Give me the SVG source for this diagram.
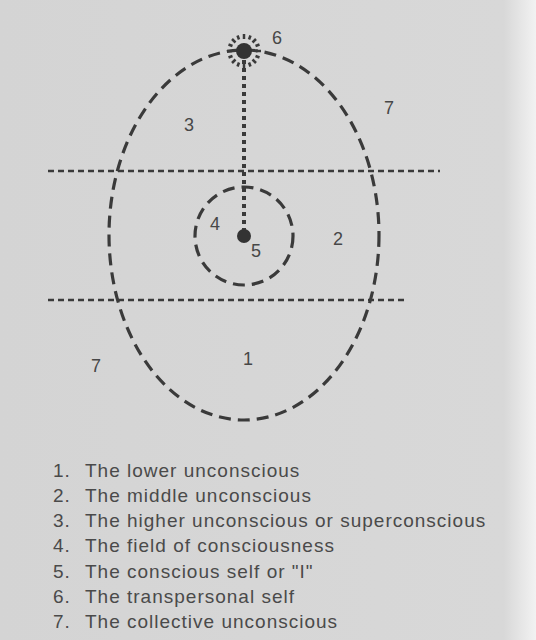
<svg xmlns="http://www.w3.org/2000/svg" width="536" height="640" viewBox="0 0 536 640">
<defs>
<linearGradient id="edge" x1="0" y1="0" x2="1" y2="0">
<stop offset="0" stop-color="#d4d4d4"/>
<stop offset="0.94" stop-color="#d8d8d8"/>
<stop offset="1" stop-color="#f2f2f2"/>
</linearGradient>
<style>
.dash{fill:none;stroke:#3a3a3a;stroke-width:3.2;stroke-dasharray:12 7}
.hline{fill:none;stroke:#3a3a3a;stroke-width:2.5;stroke-dasharray:6 4}
.dot{fill:none;stroke:#3a3a3a;stroke-width:4;stroke-dasharray:4 4}
.num{font-family:"Liberation Sans",Arial,sans-serif;font-size:18px;fill:#474747}
.leg{font-family:"Liberation Sans",Arial,sans-serif;font-size:19px;letter-spacing:1px;fill:#4a4a4a}
.ray{stroke:#3a3a3a;stroke-width:2.5}
</style>
</defs>
<rect x="0" y="0" width="536" height="640" fill="url(#edge)"/>
<g id="connectors">
<line class="hline" x1="48" y1="171" x2="440" y2="171"/>
<line class="hline" x1="48" y1="300" x2="408" y2="300"/>
<line class="dot" x1="244" y1="60" x2="244" y2="232"/>
</g>
<g id="egg">
<ellipse class="dash" cx="244" cy="235" rx="135" ry="185"/>
</g>
<g id="field">
<circle class="dash" cx="244" cy="236" r="49"/>
</g>
<g id="self">
<circle cx="244" cy="236" r="7" fill="#333"/>
</g>
<g id="transpersonal">
<circle cx="244" cy="51" r="8" fill="#333"/>
<g class="ray">
<line x1="244" y1="34" x2="244" y2="39"/>
<line x1="244" y1="63" x2="244" y2="68"/>
<line x1="227" y1="51" x2="232" y2="51"/>
<line x1="256" y1="51" x2="261" y2="51"/>
<line x1="232" y1="39" x2="235.5" y2="42.5"/>
<line x1="256" y1="39" x2="252.5" y2="42.5"/>
<line x1="232" y1="63" x2="235.5" y2="59.5"/>
<line x1="256" y1="63" x2="252.5" y2="59.5"/>
<line x1="237.5" y1="35.5" x2="239" y2="39.5"/>
<line x1="250.5" y1="35.5" x2="249" y2="39.5"/>
<line x1="228.5" y1="44.5" x2="232.5" y2="46"/>
<line x1="259.5" y1="44.5" x2="255.5" y2="46"/>
<line x1="228.5" y1="57.5" x2="232.5" y2="56"/>
<line x1="259.5" y1="57.5" x2="255.5" y2="56"/>
<line x1="237.5" y1="66.5" x2="239" y2="62.5"/>
<line x1="250.5" y1="66.5" x2="249" y2="62.5"/>
</g>
</g>
<g id="labels">
<text class="num" x="272" y="44">6</text>
<text class="num" x="384" y="114">7</text>
<text class="num" x="184" y="131">3</text>
<text class="num" x="210" y="230">4</text>
<text class="num" x="251" y="257">5</text>
<text class="num" x="333" y="245">2</text>
<text class="num" x="91" y="372">7</text>
<text class="num" x="243" y="365">1</text>
</g>
<g id="legend">
<text class="leg" x="53" y="477">1.</text><text class="leg" x="85" y="477">The lower unconscious</text>
<text class="leg" x="53" y="502">2.</text><text class="leg" x="85" y="502">The middle unconscious</text>
<text class="leg" x="53" y="527">3.</text><text class="leg" x="85" y="527">The higher unconscious or superconscious</text>
<text class="leg" x="53" y="552">4.</text><text class="leg" x="85" y="552">The field of consciousness</text>
<text class="leg" x="53" y="578">5.</text><text class="leg" x="85" y="578">The conscious self or "I"</text>
<text class="leg" x="53" y="603">6.</text><text class="leg" x="85" y="603">The transpersonal self</text>
<text class="leg" x="53" y="628">7.</text><text class="leg" x="85" y="628">The collective unconscious</text>
</g>
</svg>
